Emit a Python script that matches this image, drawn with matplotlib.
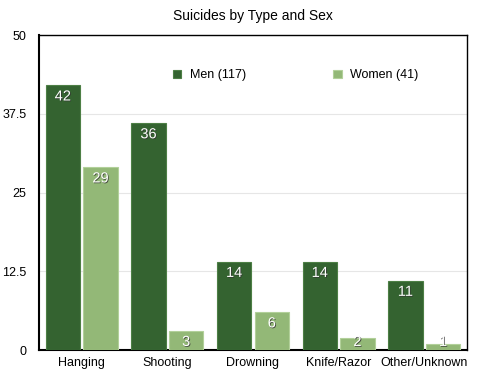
import matplotlib.pyplot as plt
import matplotlib.patheffects as pe
import numpy as np

categories = ["Hanging", "Shooting", "Drowning", "Knife/Razor", "Other/Unknown"]
men = [42, 36, 14, 14, 11]
women = [29, 3, 6, 2, 1]
men_label = "Men (117)"
women_label = "Women (41)"

plt.rcParams["font.family"] = ["Liberation Sans", "DejaVu Sans"]


def createPlot():
    fig = plt.figure(figsize=(4.8, 3.81), dpi=100)
    ax = fig.add_axes([0.081, 0.081, 0.892, 0.827])
    x = np.arange(len(categories))
    width = 0.4
    off = 0.22
    b1 = ax.bar(x - off, men, width, color="#346330", edgecolor="#4d7f45", linewidth=0.8,
                label=men_label, zorder=3)
    b2 = ax.bar(x + off, women, width, color="#93b877", edgecolor="#b2d09a", linewidth=0.8,
                label=women_label, zorder=3)
    shadow = [pe.withSimplePatchShadow(offset=(0.6, -0.6), shadow_rgbFace="#333333", alpha=0.8)]
    # label sits a bit below the bar top, but never lower than just above the axis
    for bars, vals in ((b1, men), (b2, women)):
        for r, v in zip(bars, vals):
            ax.text(r.get_x() + r.get_width() / 2, max(v - 1.75, 1.3), str(v),
                    ha="center", va="center", color="white", fontsize=10.5,
                    path_effects=shadow, zorder=4)
    ax.set_xlim(-0.5, len(categories) - 0.5)
    ax.set_ylim(0, 50)
    ax.set_yticks([0, 12.5, 25, 37.5, 50])
    ax.set_yticklabels(["0", "12.5", "25", "37.5", "50"])
    ax.set_xticks(x)
    ax.set_xticklabels(categories)
    ax.tick_params(length=0, labelsize=9)
    ax.tick_params(axis="y", pad=9)
    ax.tick_params(axis="x", pad=5)
    ax.grid(axis="y", color="#e6e6e6", linewidth=0.8, zorder=0)
    for s in ("top", "right"):
        ax.spines[s].set_linewidth(1.0)
    for s in ("left", "bottom"):
        ax.spines[s].set_linewidth(1.5)
    ax.set_title("Suicides by Type and Sex", fontsize=10, pad=11)
    ax.legend(loc="center", bbox_to_anchor=(0.6, 0.873), ncol=2, frameon=False,
              fontsize=9, columnspacing=7, handlelength=0.65, handleheight=0.65,
              handletextpad=0.7)
    plt.savefig("out.png")


def main():
    createPlot()


if __name__ == "__main__":
    main()
